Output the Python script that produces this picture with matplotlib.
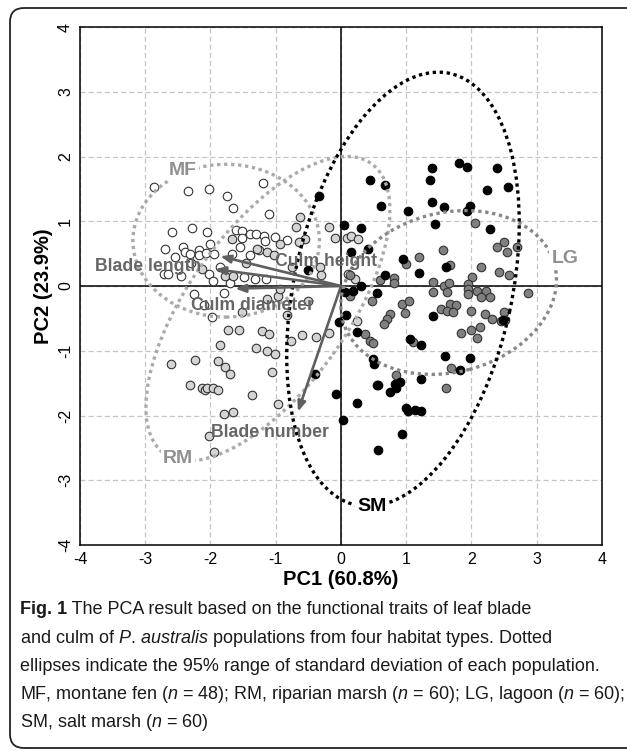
import matplotlib
matplotlib.use('Agg')
import matplotlib.pyplot as plt
from matplotlib.patches import Ellipse, FancyBboxPatch
from matplotlib.transforms import IdentityTransform

plt.rcParams['font.family'] = ['Liberation Sans', 'DejaVu Sans']
plt.rcParams['axes.unicode_minus'] = False
plt.rcParams['mathtext.fontset'] = 'custom'
plt.rcParams['mathtext.rm'] = 'Liberation Sans'
plt.rcParams['mathtext.it'] = 'Liberation Sans:italic'
plt.rcParams['mathtext.bf'] = 'Liberation Sans:bold'

# PCA scores
# MF, montane fen (white)
mf_x = [-2.87, -2.34, -2.03, -1.75, -1.66, -1.20, -1.11, -2.59, -2.28, -2.05,
        -2.69, -2.42, -2.39, -2.31, -2.17, -2.17, -2.07, -1.94, -2.72, -2.65,
        -2.02, -1.96, -2.25, -1.79, -1.61, -1.51, -1.40, -1.30, -1.18, -1.01,
        -0.83, -1.51, -1.16, -1.39, -1.48, -1.32, -1.15, -1.98, -1.67, -2.55,
        -1.85, -2.45, -1.55, -1.25, -2.00, -2.30, -1.70, -2.10]
mf_y = [1.53, 1.47, 1.50, 1.39, 1.20, 1.59, 1.11, 0.84, 0.89, 0.84,
        0.57, 0.60, 0.52, 0.49, 0.56, 0.48, 0.51, 0.49, 0.19, 0.19,
        0.19, 0.08, -0.13, -0.11, 0.87, 0.85, 0.80, 0.81, 0.77, 0.75,
        0.71, 0.74, 0.70, 0.48, 0.14, 0.11, 0.11, -0.48, 0.49, 0.45,
        0.30, 0.15, 0.60, 0.55, 0.65, 0.35, 0.05, -0.30]

# RM, riparian marsh (light grey)
rm_x = [-1.52, -1.73, -1.57, -1.21, -1.10, -0.82, -0.60, -0.77, -1.85, -1.31,
        -1.13, -1.01, -2.61, -2.24, -1.89, -1.78, -1.70, -1.05, -2.31, -2.13,
        -2.08, -2.06, -1.96, -1.89, -1.37, -0.97, -1.79, -1.66, -2.03, -1.94,
        -0.38, -0.19, -0.63, -0.69, -0.19, -0.09, 0.09, 0.16, 0.26, -0.55,
        -0.65, -0.93, -1.67, -1.29, -1.14, -1.02, -0.32, -0.30, 0.11, 0.21,
        -1.14, -0.96, -0.50, -0.93, -1.78, -1.65, 0.24, -2.13, -1.45, -0.75]
rm_y = [-0.40, -0.68, -0.68, -0.69, -0.74, -0.45, -0.76, -0.85, -0.91, -0.96,
        -1.00, -1.05, -1.21, -1.15, -1.16, -1.25, -1.36, -1.33, -1.53, -1.57,
        -1.60, -1.57, -1.57, -1.61, -1.68, -1.82, -1.98, -1.95, -2.31, -2.56,
        -0.79, -0.73, 1.06, 0.91, 0.91, 0.74, 0.74, 0.77, 0.73, 0.73,
        0.68, 0.65, 0.73, 0.57, 0.52, 0.48, 0.29, 0.17, 0.19, 0.11,
        -0.20, -0.15, -0.23, -0.05, 0.15, 0.15, -0.54, 0.26, 0.35, 0.30]

# LG, lagoon (grey)
lg_x = [1.00, 0.81, 0.81, 0.14, 0.14, 0.48, 0.93, 1.04, 0.98, 0.75,
        0.70, 0.66, 0.37, 1.41, 1.41, 2.05, 2.50, 2.39, 2.54, 2.70,
        1.57, 1.67, 2.15, 2.42, 2.57, 1.58, 1.65, 1.62, 2.01, 1.95,
        1.95, 1.95, 2.09, 2.22, 2.15, 2.28, 2.87, 1.67, 1.77, 1.54,
        1.63, 1.72, 2.00, 2.21, 2.32, 2.45, 2.50, 2.51, 2.13, 1.99,
        1.84, 2.08, 1.68, 1.61, 0.45, 0.49, 1.11, 0.84, 1.20, 0.60]
lg_y = [0.34, 0.13, 0.05, 0.17, -0.15, -0.23, -0.28, -0.23, -0.42, -0.43,
        -0.51, -0.59, -0.74, 0.06, -0.09, 0.97, 0.68, 0.60, 0.52, 0.60,
        0.55, 0.33, 0.30, 0.22, 0.17, 0.00, 0.04, -0.09, 0.14, 0.03,
        -0.05, -0.13, -0.07, -0.07, -0.17, -0.17, -0.11, -0.28, -0.30, -0.36,
        -0.39, -0.40, -0.38, -0.43, -0.51, -0.54, -0.40, -0.52, -0.64, -0.68,
        -0.73, -0.81, -1.27, -1.58, -0.85, -0.88, -0.87, -1.38, 0.45, 0.10]

# SM, salt marsh (black)
sm_x = [1.39, 1.37, 0.45, 0.68, 1.39, 0.61, 1.03, -0.34, 1.44, 0.04,
        0.15, 0.42, 0.95, 0.68, 0.31, 0.19, 0.06, 0.55, -0.50, 0.08,
        -0.03, 0.24, 1.41, 1.06, 1.81, 1.93, 2.39, 2.24, 2.56, 1.58,
        1.98, 1.93, 2.29, 1.61, 1.59, 1.98, 1.82, 2.49, 1.22, 0.49,
        0.51, -0.40, 0.55, 0.57, 0.75, 0.83, 0.90, 0.85, 1.23, -0.08,
        0.25, 1.00, 1.03, 1.13, 1.22, 0.03, 0.94, 0.56, 0.30, 1.20]
sm_y = [1.83, 1.63, 1.63, 1.56, 1.29, 1.24, 1.16, 1.39, 0.96, 0.95,
        0.53, 0.57, 0.42, 0.17, 0.00, -0.07, -0.10, -0.11, 0.24, -0.44,
        -0.55, -0.71, -0.46, -0.82, 1.90, 1.84, 1.82, 1.49, 1.53, 1.22,
        1.23, 1.16, 0.88, 0.29, -1.08, -1.11, -1.30, -0.52, -0.91, -1.12,
        -1.21, -1.36, -1.53, -1.53, -1.63, -1.51, -1.49, -1.57, -1.43, -1.67,
        -1.81, -1.89, -1.93, -1.91, -1.93, -2.07, -2.28, -2.53, 0.90, 0.20]

# trait loadings (arrow heads)
traits = ['Culm height', 'Blade length', 'Culm diameter', 'Blade number']
load_x = [-1.85, -1.93, -1.62, -0.66]
load_y = [0.46, 0.26, -0.04, -1.94]
trait_lab_x = [-0.23, -2.96, -1.36, -1.09]
trait_lab_y = [0.38, 0.30, -0.30, -2.26]

# 95% ellipses: centre x, centre y, width, height, angle
groups = ['MF', 'RM', 'LG', 'SM']
ell_cx = [-1.76, -1.12, 1.65, 0.95]
ell_cy = [0.70, -0.35, -0.10, -0.05]
ell_w = [2.86, 5.49, 3.36, 6.82]
ell_h = [2.36, 2.44, 2.46, 3.34]
ell_ang = [0, 54.8, 15, 77.9]
group_lab_x = [-2.42, -2.50, 3.43, 0.47]
group_lab_y = [1.78, -2.66, 0.42, -3.40]

fig = plt.figure(figsize=(6.27, 7.51), dpi=100)
ax = fig.add_axes([0.1276, 0.2743, 0.8325, 0.6897])

ax.set_xlim(-4, 4)
ax.set_ylim(-4, 4)
ax.set_xticks(range(-4, 5))
ax.set_yticks(range(-4, 5))
ax.grid(True, color='#c4c4c4', linestyle=(0, (4, 2.5)), linewidth=0.9)
ax.set_axisbelow(True)
ax.axhline(0, color='black', lw=1.1, zorder=1)
ax.axvline(0, color='black', lw=1.1, zorder=1)
for s in ax.spines.values():
    s.set_linewidth(1.1)
ax.tick_params(length=0, labelsize=11.5, pad=5)
for lab in ax.get_yticklabels():
    lab.set_rotation(90)
    lab.set_va('center')

# points
pt = dict(s=38, linewidths=0.8, edgecolors='#333333', zorder=3)
ax.scatter(mf_x, mf_y, c='white', **pt)
ax.scatter(rm_x, rm_y, c='#d4d4d4', **pt)
ax.scatter(lg_x, lg_y, c='#808080', **pt)
ax.scatter(sm_x, sm_y, c='black', s=38, linewidths=0.8, edgecolors='black', zorder=3)

# ellipses
ell_col = ['#aaaaaa', '#aaaaaa', '#888888', 'black']
for i in range(4):
    e = Ellipse((ell_cx[i], ell_cy[i]), ell_w[i], ell_h[i], angle=ell_ang[i],
                fill=False, edgecolor=ell_col[i], linewidth=2.4,
                linestyle=(0, (1, 1.1)), zorder=4)
    ax.add_patch(e)
    ax.text(group_lab_x[i], group_lab_y[i], groups[i], fontsize=14, fontweight='bold',
            color='black' if groups[i] == 'SM' else '#909090',
            ha='center', va='center', zorder=6,
            bbox=dict(facecolor='white', edgecolor='none', pad=1.5))

# arrows
for i in range(len(traits)):
    ax.annotate('', xy=(load_x[i], load_y[i]), xytext=(0, 0),
                arrowprops=dict(arrowstyle='-|>,head_length=0.6,head_width=0.24',
                                color='#5f5f5f', lw=1.9, shrinkA=0, shrinkB=0),
                zorder=5)
    ax.text(trait_lab_x[i], trait_lab_y[i], traits[i], fontsize=12.7, fontweight='bold',
            color='#666666', ha='center', va='center', zorder=6)

ax.set_xlabel('PC1 (60.8%)', fontsize=14.5, fontweight='bold', labelpad=2)
ax.set_ylabel('PC2 (23.9%)', fontsize=14.5, fontweight='bold', labelpad=4)

# caption
cap = ['The PCA result based on the functional traits of leaf blade',
       r'and culm of $P.\,australis$ populations from four habitat types. Dotted',
       'ellipses indicate the 95% range of standard deviation of each population.',
       r'MF, montane fen ($n$ = 48); RM, riparian marsh ($n$ = 60); LG, lagoon ($n$ = 60);',
       r'SM, salt marsh ($n$ = 60)']
for k, line in enumerate(cap):
    y = 1 - (610 + 28.2 * k) / 751
    if k == 0:
        t1 = fig.text(20 / 627, y, 'Fig. 1', fontsize=13.0, fontweight='bold',
                      color='#1a1a1a', ha='left', va='center')
        ax.annotate(' ' + line, xy=(1, 0), xycoords=t1, fontsize=13.0,
                    color='#1a1a1a', ha='left', va='bottom', annotation_clip=False)
    else:
        fig.text(20 / 627, y, line, fontsize=13.0,
                 color='#1a1a1a', ha='left', va='center')

border = FancyBboxPatch((10, 3), 660, 740, boxstyle='round,pad=0,rounding_size=14',
                        transform=IdentityTransform(), fill=False,
                        edgecolor='#222222', linewidth=1.3)
fig.add_artist(border)

fig.savefig('out.png', dpi=100)
